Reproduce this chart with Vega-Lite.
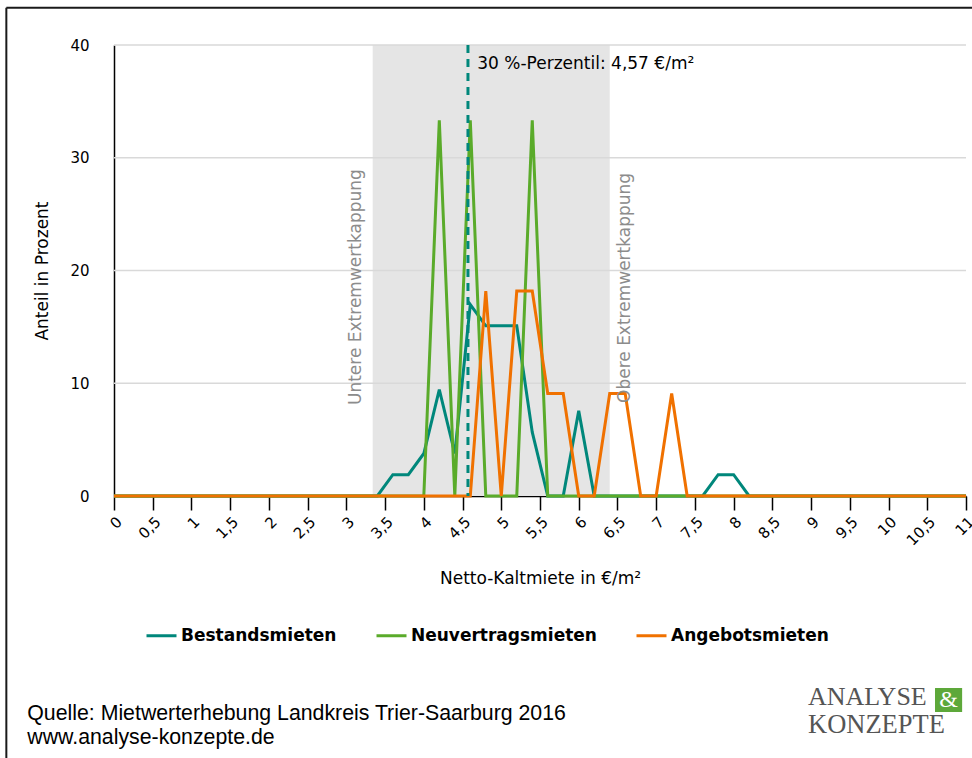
{
  "$schema": "https://vega.github.io/schema/vega-lite/v6.json",
  "autosize": {"type": "none"},
  "width": 852,
  "height": 451,
  "padding": {"left": 114, "top": 45, "right": 6, "bottom": 262},
  "background": "white",
  "config": {
    "view": {"stroke": null},
    "font": "DejaVu Sans",
    "axisX": {
      "domainColor": "#000000", "domainWidth": 1.5, "tickColor": "#000000", "tickWidth": 1.5, "tickSize": 14,
      "labelFont": "DejaVu Sans", "labelFontSize": 15, "labelColor": "#000000", "labelAngle": -45, "labelPadding": 4,
      "labelOverlap": false, "labelFlush": false, "tickCount": 40,
      "titleFont": "DejaVu Sans", "titleFontSize": 17, "titleFontWeight": "normal", "titleColor": "#000000", "titlePadding": 22,
      "grid": false
    },
    "axisY": {
      "domainColor": "#000000", "domainWidth": 1.5, "ticks": false,
      "labelFont": "DejaVu Sans", "labelFontSize": 15, "labelColor": "#000000", "labelPadding": 25,
      "titleFont": "DejaVu Sans", "titleFontSize": 17, "titleFontWeight": "normal", "titleColor": "#000000", "titlePadding": 18,
      "grid": false
    },
    "legend": {
      "orient": "bottom", "direction": "horizontal", "title": null,
      "symbolType": "stroke", "symbolStrokeWidth": 3, "symbolSize": 900,
      "labelFont": "DejaVu Sans", "labelFontSize": 17, "labelFontWeight": "bold", "labelColor": "#000000", "labelLimit": 0,
      "labelOffset": 3, "columnPadding": 33, "padding": 31, "offset": 1
    }
  },
  "layer": [
    {
      "data": {"values": [{}]},
      "mark": {"type": "rect", "color": "#E5E5E5"},
      "encoding": {
        "x": {
          "datum": 3.34, "type": "quantitative", "title": "Netto-Kaltmiete in €/m²",
          "scale": {"domain": [0, 11], "nice": false, "zero": false},
          "axis": {"values": [0, 0.5, 1, 1.5, 2, 2.5, 3, 3.5, 4, 4.5, 5, 5.5, 6, 6.5, 7, 7.5, 8, 8.5, 9, 9.5, 10, 10.5, 11],
                   "tickCount": 40, "labelExpr": "replace(toString(datum.value), '.', ',')"}
        },
        "x2": {"datum": 6.4},
        "y": {
          "datum": 0, "type": "quantitative", "title": "Anteil in Prozent",
          "scale": {"domain": [0, 40], "nice": false},
          "axis": {"values": [0, 10, 20, 30, 40]}
        },
        "y2": {"datum": 40}
      }
    },
    {
      "data": {"values": [{"gitter": 10}, {"gitter": 20}, {"gitter": 30}, {"gitter": 40}]},
      "mark": {"type": "rule", "color": "#D9D9D9", "strokeWidth": 1.5},
      "encoding": {
        "y": {"field": "gitter", "type": "quantitative", "title": "Anteil in Prozent"}
      }
    },
    {
      "data": {"values": [
        {"x": 0, "Bestandsmieten": 0, "Neuvertragsmieten": 0, "Angebotsmieten": 0},
        {"x": 0.2, "Bestandsmieten": 0, "Neuvertragsmieten": 0, "Angebotsmieten": 0},
        {"x": 0.4, "Bestandsmieten": 0, "Neuvertragsmieten": 0, "Angebotsmieten": 0},
        {"x": 0.6, "Bestandsmieten": 0, "Neuvertragsmieten": 0, "Angebotsmieten": 0},
        {"x": 0.8, "Bestandsmieten": 0, "Neuvertragsmieten": 0, "Angebotsmieten": 0},
        {"x": 1.0, "Bestandsmieten": 0, "Neuvertragsmieten": 0, "Angebotsmieten": 0},
        {"x": 1.2, "Bestandsmieten": 0, "Neuvertragsmieten": 0, "Angebotsmieten": 0},
        {"x": 1.4, "Bestandsmieten": 0, "Neuvertragsmieten": 0, "Angebotsmieten": 0},
        {"x": 1.6, "Bestandsmieten": 0, "Neuvertragsmieten": 0, "Angebotsmieten": 0},
        {"x": 1.8, "Bestandsmieten": 0, "Neuvertragsmieten": 0, "Angebotsmieten": 0},
        {"x": 2.0, "Bestandsmieten": 0, "Neuvertragsmieten": 0, "Angebotsmieten": 0},
        {"x": 2.2, "Bestandsmieten": 0, "Neuvertragsmieten": 0, "Angebotsmieten": 0},
        {"x": 2.4, "Bestandsmieten": 0, "Neuvertragsmieten": 0, "Angebotsmieten": 0},
        {"x": 2.6, "Bestandsmieten": 0, "Neuvertragsmieten": 0, "Angebotsmieten": 0},
        {"x": 2.8, "Bestandsmieten": 0, "Neuvertragsmieten": 0, "Angebotsmieten": 0},
        {"x": 3.0, "Bestandsmieten": 0, "Neuvertragsmieten": 0, "Angebotsmieten": 0},
        {"x": 3.2, "Bestandsmieten": 0, "Neuvertragsmieten": 0, "Angebotsmieten": 0},
        {"x": 3.4, "Bestandsmieten": 0, "Neuvertragsmieten": 0, "Angebotsmieten": 0},
        {"x": 3.6, "Bestandsmieten": 1.89, "Neuvertragsmieten": 0, "Angebotsmieten": 0},
        {"x": 3.8, "Bestandsmieten": 1.89, "Neuvertragsmieten": 0, "Angebotsmieten": 0},
        {"x": 4.0, "Bestandsmieten": 3.77, "Neuvertragsmieten": 0, "Angebotsmieten": 0},
        {"x": 4.2, "Bestandsmieten": 9.43, "Neuvertragsmieten": 33.33, "Angebotsmieten": 0},
        {"x": 4.4, "Bestandsmieten": 3.77, "Neuvertragsmieten": 0, "Angebotsmieten": 0},
        {"x": 4.6, "Bestandsmieten": 16.98, "Neuvertragsmieten": 33.33, "Angebotsmieten": 0},
        {"x": 4.8, "Bestandsmieten": 15.09, "Neuvertragsmieten": 0, "Angebotsmieten": 18.18},
        {"x": 5.0, "Bestandsmieten": 15.09, "Neuvertragsmieten": 0, "Angebotsmieten": 0},
        {"x": 5.2, "Bestandsmieten": 15.09, "Neuvertragsmieten": 0, "Angebotsmieten": 18.18},
        {"x": 5.4, "Bestandsmieten": 5.66, "Neuvertragsmieten": 33.33, "Angebotsmieten": 18.18},
        {"x": 5.6, "Bestandsmieten": 0, "Neuvertragsmieten": 0, "Angebotsmieten": 9.09},
        {"x": 5.8, "Bestandsmieten": 0, "Neuvertragsmieten": 0, "Angebotsmieten": 9.09},
        {"x": 6.0, "Bestandsmieten": 7.55, "Neuvertragsmieten": 0, "Angebotsmieten": 0},
        {"x": 6.2, "Bestandsmieten": 0, "Neuvertragsmieten": 0, "Angebotsmieten": 0},
        {"x": 6.4, "Bestandsmieten": 0, "Neuvertragsmieten": 0, "Angebotsmieten": 9.09},
        {"x": 6.6, "Bestandsmieten": 0, "Neuvertragsmieten": 0, "Angebotsmieten": 9.09},
        {"x": 6.8, "Bestandsmieten": 0, "Neuvertragsmieten": 0, "Angebotsmieten": 0},
        {"x": 7.0, "Bestandsmieten": 0, "Neuvertragsmieten": 0, "Angebotsmieten": 0},
        {"x": 7.2, "Bestandsmieten": 0, "Neuvertragsmieten": 0, "Angebotsmieten": 9.09},
        {"x": 7.4, "Bestandsmieten": 0, "Neuvertragsmieten": 0, "Angebotsmieten": 0},
        {"x": 7.6, "Bestandsmieten": 0, "Neuvertragsmieten": 0, "Angebotsmieten": 0},
        {"x": 7.8, "Bestandsmieten": 1.89, "Neuvertragsmieten": 0, "Angebotsmieten": 0},
        {"x": 8.0, "Bestandsmieten": 1.89, "Neuvertragsmieten": 0, "Angebotsmieten": 0},
        {"x": 8.2, "Bestandsmieten": 0, "Neuvertragsmieten": 0, "Angebotsmieten": 0},
        {"x": 8.4, "Bestandsmieten": 0, "Neuvertragsmieten": 0, "Angebotsmieten": 0},
        {"x": 8.6, "Bestandsmieten": 0, "Neuvertragsmieten": 0, "Angebotsmieten": 0},
        {"x": 8.8, "Bestandsmieten": 0, "Neuvertragsmieten": 0, "Angebotsmieten": 0},
        {"x": 9.0, "Bestandsmieten": 0, "Neuvertragsmieten": 0, "Angebotsmieten": 0},
        {"x": 9.2, "Bestandsmieten": 0, "Neuvertragsmieten": 0, "Angebotsmieten": 0},
        {"x": 9.4, "Bestandsmieten": 0, "Neuvertragsmieten": 0, "Angebotsmieten": 0},
        {"x": 9.6, "Bestandsmieten": 0, "Neuvertragsmieten": 0, "Angebotsmieten": 0},
        {"x": 9.8, "Bestandsmieten": 0, "Neuvertragsmieten": 0, "Angebotsmieten": 0},
        {"x": 10.0, "Bestandsmieten": 0, "Neuvertragsmieten": 0, "Angebotsmieten": 0},
        {"x": 10.2, "Bestandsmieten": 0, "Neuvertragsmieten": 0, "Angebotsmieten": 0},
        {"x": 10.4, "Bestandsmieten": 0, "Neuvertragsmieten": 0, "Angebotsmieten": 0},
        {"x": 10.6, "Bestandsmieten": 0, "Neuvertragsmieten": 0, "Angebotsmieten": 0},
        {"x": 10.8, "Bestandsmieten": 0, "Neuvertragsmieten": 0, "Angebotsmieten": 0},
        {"x": 11.0, "Bestandsmieten": 0, "Neuvertragsmieten": 0, "Angebotsmieten": 0}
      ]},
      "transform": [
        {"fold": ["Bestandsmieten", "Neuvertragsmieten", "Angebotsmieten"], "as": ["serie", "anteil"]}
      ],
      "mark": {"type": "line", "strokeWidth": 3, "strokeJoin": "miter", "strokeCap": "butt"},
      "encoding": {
        "x": {
          "field": "x", "type": "quantitative", "title": "Netto-Kaltmiete in €/m²",
          "scale": {"domain": [0, 11], "nice": false, "zero": false},
          "axis": {"values": [0, 0.5, 1, 1.5, 2, 2.5, 3, 3.5, 4, 4.5, 5, 5.5, 6, 6.5, 7, 7.5, 8, 8.5, 9, 9.5, 10, 10.5, 11],
                   "tickCount": 40, "labelExpr": "replace(toString(datum.value), '.', ',')"}
        },
        "y": {
          "field": "anteil", "type": "quantitative", "title": "Anteil in Prozent",
          "scale": {"domain": [0, 40], "nice": false},
          "axis": {"values": [0, 10, 20, 30, 40]}
        },
        "color": {
          "field": "serie", "type": "nominal",
          "scale": {"domain": ["Bestandsmieten", "Neuvertragsmieten", "Angebotsmieten"], "range": ["#00877B", "#5AAB2A", "#F07100"]},
          "sort": ["Bestandsmieten", "Neuvertragsmieten", "Angebotsmieten"]
        },
        "order": {"field": "x", "type": "quantitative"}
      }
    },
    {
      "data": {"values": [{}]},
      "mark": {"type": "rule", "color": "#00877B", "strokeWidth": 3, "strokeDash": [8, 6]},
      "encoding": {
        "x": {"datum": 4.57, "type": "quantitative", "title": "Netto-Kaltmiete in €/m²"},
        "y": {"datum": 40, "type": "quantitative", "title": "Anteil in Prozent"},
        "y2": {"datum": 0}
      }
    },
    {
      "data": {"values": [{}]},
      "mark": {"type": "text", "text": "30 %-Perzentil: 4,57 €/m²", "align": "left", "baseline": "middle", "fontSize": 17, "font": "DejaVu Sans", "color": "#000000"},
      "encoding": {
        "x": {"datum": 4.69, "type": "quantitative"},
        "y": {"datum": 38.35, "type": "quantitative"}
      }
    },
    {
      "data": {"values": [{"label": "Untere Extremwertkappung", "xpos": 3.125, "ypos": 8.07}, {"label": "Obere Extremwertkappung", "xpos": 6.6, "ypos": 8.25}]},
      "mark": {"type": "text", "angle": 270, "align": "left", "baseline": "middle", "fontSize": 17, "font": "DejaVu Sans", "color": "#8C8C8C"},
      "encoding": {
        "x": {"field": "xpos", "type": "quantitative"},
        "y": {"field": "ypos", "type": "quantitative"},
        "text": {"field": "label"}
      }
    },
    {
      "data": {"values": [{}]},
      "mark": {"type": "rule", "color": "#1A1A1A", "strokeWidth": 2},
      "encoding": {
        "x": {"datum": -1.39, "type": "quantitative"},
        "y": {"datum": 43.3, "type": "quantitative"},
        "y2": {"datum": -25}
      }
    },
    {
      "data": {"values": [{}]},
      "mark": {"type": "rule", "color": "#1A1A1A", "strokeWidth": 2},
      "encoding": {
        "x": {"datum": -1.39, "type": "quantitative"},
        "x2": {"datum": 11.2},
        "y": {"datum": 43.3, "type": "quantitative"}
      }
    },
    {
      "data": {"values": [{"zeile": "Quelle: Mietwerterhebung Landkreis Trier-Saarburg 2016", "ypos": -19.3}, {"zeile": "www.analyse-konzepte.de", "ypos": -21.45}]},
      "mark": {"type": "text", "align": "left", "baseline": "middle", "fontSize": 21.3, "font": "Liberation Sans", "color": "#000000"},
      "encoding": {
        "x": {"datum": -1.12, "type": "quantitative"},
        "y": {"field": "ypos", "type": "quantitative"},
        "text": {"field": "zeile"}
      }
    },
    {
      "data": {"values": [{}]},
      "mark": {"type": "rect", "color": "#5DA83A"},
      "encoding": {
        "x": {"datum": 10.6, "type": "quantitative"},
        "x2": {"datum": 10.95},
        "y": {"datum": -17.03, "type": "quantitative"},
        "y2": {"datum": -19.16}
      }
    },
    {
      "data": {"values": [{}]},
      "mark": {"type": "text", "text": "ANALYSE", "align": "left", "baseline": "middle", "fontSize": 26, "font": "Liberation Serif", "color": "#555555"},
      "encoding": {
        "x": {"datum": 8.96, "type": "quantitative"},
        "y": {"datum": -17.85, "type": "quantitative"}
      }
    },
    {
      "data": {"values": [{}]},
      "mark": {"type": "text", "text": "KONZEPTE", "align": "left", "baseline": "middle", "fontSize": 26.5, "font": "Liberation Serif", "color": "#555555"},
      "encoding": {
        "x": {"datum": 8.96, "type": "quantitative"},
        "y": {"datum": -20.35, "type": "quantitative"}
      }
    },
    {
      "data": {"values": [{}]},
      "mark": {"type": "text", "text": "&", "align": "center", "baseline": "middle", "fontSize": 24, "font": "Liberation Serif", "color": "#FFFFFF"},
      "encoding": {
        "x": {"datum": 10.775, "type": "quantitative"},
        "y": {"datum": -18.1, "type": "quantitative"}
      }
    }
  ]
}
